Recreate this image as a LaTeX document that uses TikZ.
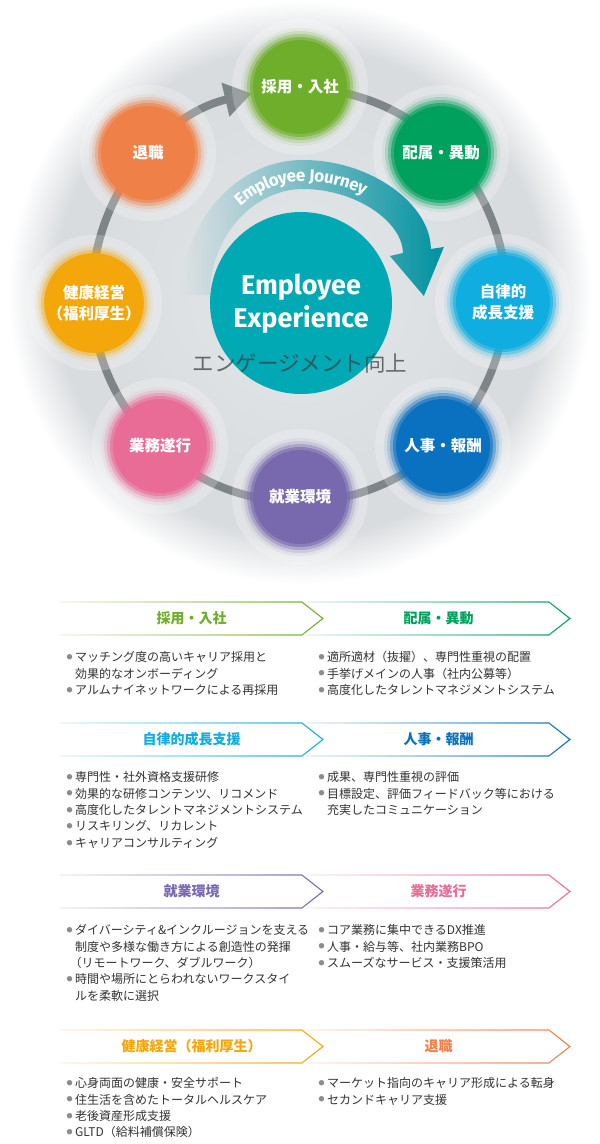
\documentclass[tikz,border=0pt]{standalone}
\usepackage{fontspec}
\usepackage{graphicx}
\setmainfont{Noto Sans CJK JP}
\newfontfamily\jp{Noto Sans CJK JP}
\newfontfamily\lat{Fira Sans}
\usetikzlibrary{arrows.meta,decorations.text,fadings}

\definecolor{cSaiyo}{HTML}{6FAE2B}
\definecolor{cHaizoku}{HTML}{00A15C}
\definecolor{cJiritsu}{HTML}{10AEE0}
\definecolor{cJinji}{HTML}{0A70C0}
\definecolor{cShugyo}{HTML}{7868AE}
\definecolor{cGyomu}{HTML}{E96C97}
\definecolor{cKenko}{HTML}{F3A70B}
\definecolor{cTaishoku}{HTML}{EE8048}
\definecolor{cTeal}{HTML}{00A9B4}
\definecolor{cJourney}{HTML}{0092A0}
\definecolor{cRing}{HTML}{7E8589}
\definecolor{cText}{HTML}{333333}
\definecolor{cBullet}{HTML}{8C8C8C}
\definecolor{cEng}{HTML}{3C4044}
\definecolor{bgA}{HTML}{E4E7EA}
\definecolor{bgB}{HTML}{D9DCDF}

\pgfdeclareradialshading{bgdisc}{\pgfpoint{0bp}{0bp}}{color(0bp)=(bgA); color(19bp)=(bgB); color(21bp)=(bgB); color(25bp)=(white); color(50bp)=(white)}
\tikzfading[name=fadein, left color=transparent!88, right color=transparent!0]
\tikzfading[name=jfade, left color=transparent!100, middle color=transparent!45, right color=transparent!0]

\tikzset{
  bubble/.style={circle, inner sep=0pt, minimum size=94pt, text=white, align=center,
    font=\jp\bfseries\fontsize{15.5}{20.5}\selectfont},
  bannertitle/.style={inner sep=0pt, font=\jp\bfseries\fontsize{14}{16}\selectfont},
  listtxt/.style={anchor=base west, inner sep=0pt, text=cText, font=\jp\fontsize{12}{14}\selectfont},
  ringline/.style={draw=cRing, line width=8pt},
}

\newcommand\bubble[5]{%
  \fill[white, opacity=0.22] (#2,#3) circle (68pt);
  \fill[#4, opacity=0.08] (#2,#3) circle (59pt);
  \fill[#4, opacity=0.18] (#2,#3) circle (56pt);
  \fill[#4, opacity=0.35] (#2,#3) circle (53pt);
  \fill[#4, opacity=0.6] (#2,#3) circle (50pt);
  \node[bubble, fill=#4] (#1) at (#2,#3) {#5};
}
\newcommand\banner[6]{%
  \pgfmathsetmacro\bnS{#3-21}%
  \pgfmathsetmacro\bnM{#4+16.5}%
  \pgfmathsetmacro\bnB{#4+33}%
  \pgfmathsetmacro\bnC{(#2+#3)/2}%
  \draw[#5, line width=1.1pt, path fading=fadein] (#2,#4) -- (\bnS,#4) -- (#3,\bnM) -- (\bnS,\bnB) -- (#2,\bnB);
  \node[bannertitle, text=#5] (#1) at (\bnC,\bnM) {#6};
}
\newcommand\bul{\makebox[8.5pt][l]{\textcolor{cBullet}{\fontsize{6}{6}\selectfont\raisebox{2.2pt}{●}}}}
\newcommand\ind{\hspace*{8.5pt}}
\newcommand\blist[4]{%
  \foreach \itm [count=\k] in {#4}{\node[listtxt] (#1-\k) at ({#2},{#3+16.4*(\k-1)}) {\itm};}%
}

\begin{document}
\begin{tikzpicture}[x=1pt,y=-1pt]
\useasboundingbox (0,0) rectangle (600,1144);
\fill[white] (0,0) rectangle (600,1144);
\shade[shading=bgdisc] (300,292) circle (292pt);

% ring with arrow
\coordinate (rc) at (299,295);
\draw[ringline, -{Triangle[length=27pt,width=33pt]}] (rc) ++(-85:207) arc[start angle=-85, end angle=256.8, radius=207];

% stage bubbles
\bubble{saiyo}{300}{87}{cSaiyo}{採用・入社}
\bubble{haizoku}{441}{153}{cHaizoku}{配属・異動}
\bubble{jiritsu}{503}{302}{cJiritsu}{自律的\\成長支援}
\bubble{jinji}{443}{446}{cJinji}{人事・報酬}
\bubble{shugyo}{300}{497}{cShugyo}{就業環境}
\bubble{gyomu}{160}{446}{cGyomu}{業務遂行}
\bubble{kenko}{94}{303}{cKenko}{健康経営\\（福利厚生）}
\bubble{taishoku}{148}{153}{cTaishoku}{退職}

% Employee Journey arrow
\fill[cJourney, path fading=jfade] (182,295) .. controls (182,222) and (236,160) .. (303,160)
  .. controls (372,160) and (431,205) .. (431,249) -- (444,247) -- (424,296) -- (390,256) -- (403,253)
  .. controls (403,222) and (356,189) .. (303,189) .. controls (254,189) and (210,236) .. (210,295) -- cycle;
\path[decorate, decoration={text along path, text={|\lat\bfseries\fontsize{17}{17}\selectfont|Employee Journey},
  text color=white, text align=center, raise=-6.5pt}]
  (196,295) .. controls (196,229) and (245,174.5) .. (303,174.5) .. controls (364,174.5) and (417,213) .. (417,251) -- (419,272);

% centre
\node[circle, fill=cTeal, minimum size=182pt, inner sep=0pt] (ee) at (301,303) {};
\node[text=white, align=center, inner sep=0pt, font=\lat\bfseries\fontsize{27}{33}\selectfont] (eetext) at (301,304) {Employee\\Experience};
\node[text=cEng, text opacity=0.75, inner sep=0pt, font=\jp\fontsize{21.5}{24}\selectfont] (eng) at (300,363) {エンゲージメント向上};

% lower banners
\banner{t1}{60}{323}{602}{cSaiyo}{採用・入社}
\banner{t2}{307}{570}{602}{cHaizoku}{配属・異動}
\banner{t3}{60}{323}{723}{cJiritsu}{自律的成長支援}
\banner{t4}{307}{570}{723}{cJinji}{人事・報酬}
\banner{t5}{60}{323}{875}{cShugyo}{就業環境}
\banner{t6}{307}{570}{875}{cGyomu}{業務遂行}
\banner{t7}{60}{323}{1030}{cKenko}{健康経営（福利厚生）}
\banner{t8}{307}{570}{1030}{cTaishoku}{退職}

% lists
\blist{la}{66.5}{661.6}{{\bul マッチング度の高いキャリア採用と},{\ind 効果的なオンボーディング},{\bul アルムナイネットワークによる再採用}}
\blist{lb}{318.5}{661.6}{{\bul 適所適材（抜擢）、専門性重視の配置},{\bul 手挙げメインの人事（社内公募等）},{\bul 高度化したタレントマネジメントシステム}}
\blist{lc}{66.5}{781.6}{{\bul 専門性・社外資格支援研修},{\bul 効果的な研修コンテンツ、リコメンド},{\bul 高度化したタレントマネジメントシステム},{\bul リスキリング、リカレント},{\bul キャリアコンサルティング}}
\blist{ld}{318.5}{781.6}{{\bul 成果、専門性重視の評価},{\bul 目標設定、評価フィードバック等における},{\ind 充実したコミュニケーション}}
\blist{le}{66.5}{934.6}{{\bul ダイバーシティ\&インクルージョンを支える},{\ind 制度や多様な働き方による創造性の発揮},{\hspace*{3pt}（リモートワーク、ダブルワーク）},{\bul 時間や場所にとらわれないワークスタイ},{\ind ルを柔軟に選択}}
\blist{lf}{318.5}{934.6}{{\bul コア業務に集中できるDX推進},{\bul 人事・給与等、社内業務BPO},{\bul スムーズなサービス・支援策活用}}
\blist{lg}{66.5}{1087.6}{{\bul 心身両面の健康・安全サポート},{\bul 住生活を含めたトータルヘルスケア},{\bul 老後資産形成支援},{\bul GLTD（給料補償保険）}}
\blist{lh}{318.5}{1087.6}{{\bul マーケット指向のキャリア形成による転身},{\bul セカンドキャリア支援}}
\end{tikzpicture}
\end{document}
